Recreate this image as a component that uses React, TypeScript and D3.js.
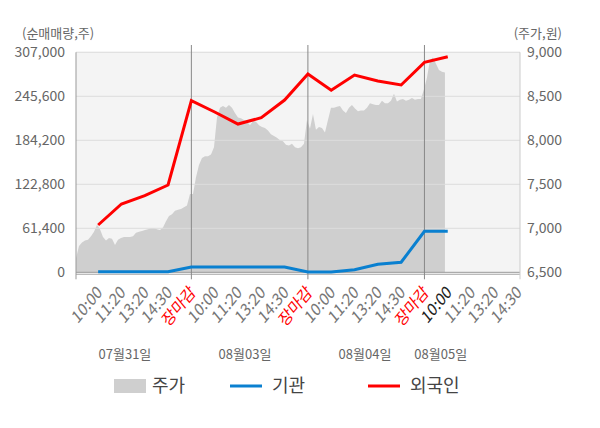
import React, { useRef, useEffect } from 'react';
import * as d3 from 'd3';

// x categories (one slot per tick label)
const timeLabels = [
  '10:00', '11:20', '13:20', '14:30', '장마감',
  '10:00', '11:20', '13:20', '14:30', '장마감',
  '10:00', '11:20', '13:20', '14:30', '장마감',
  '10:00', '11:20', '13:20', '14:30',
];
const currentSlot = 15;
const dayLabels = ['07월31일', '08월03일', '08월04일', '08월05일'];
const dayLabelSlots = [1.15, 6.3, 11.45, 14.7];
const dayBoundarySlots = [4, 9, 14];

// 순매매량 (주), one value per slot
const foreign = [
  66000, 95300, 106900, 121800, 239500,
  223700, 206900, 215700, 240400, 276700,
  254000, 275300, 267000, 261400, 293000,
  300900,
];
const institution = [
  800, 800, 800, 800, 7400,
  7400, 7400, 7400, 7400, 400,
  400, 3600, 11200, 14000, 57200,
  57200,
];

// 주가 (원), evenly spaced intraday samples from session open to now
const priceStartSlot = -0.95;
const priceEndSlot = 14.88;
const price = [
  6660, 6800, 6840, 6860, 6870, 6910, 6960, 7040, 6990, 6900,
  6860, 6890, 6880, 6810, 6870, 6890, 6900, 6900, 6900, 6910,
  6950, 6960, 6970, 6980, 6990, 7000, 7000, 6990, 6980, 7010,
  7080, 7140, 7160, 7200, 7210, 7220, 7240, 7260, 7390, 7390,
  7580, 7720, 7800, 7820, 7820, 7840, 7920, 8260, 8370, 8390,
  8370, 8400, 8370, 8310, 8260, 8250, 8230, 8210, 8170, 8220,
  8210, 8170, 8150, 8140, 8110, 8070, 8050, 8030, 8000, 7990,
  7950, 7940, 7960, 7920, 7910, 7920, 7960, 8230, 8130, 8300,
  8120, 8150, 8140, 8090, 8230, 8370, 8370, 8380, 8390, 8340,
  8310, 8370, 8400, 8360, 8330, 8340, 8340, 8370, 8420, 8410,
  8400, 8400, 8450, 8420, 8420, 8450, 8530, 8440, 8460, 8470,
  8450, 8460, 8480, 8460, 8470, 8470, 8580, 8710, 8910, 8940,
  8870, 8800, 8780, 8770,
];

const volumeTicks = [0, 61400, 122800, 184200, 245600, 307000];
const priceTicks = [6500, 7000, 7500, 8000, 8500, 9000];

const W = 600;
const H = 428;
const FONT = '"Noto Sans CJK KR", "Noto Sans", sans-serif';

const App: React.FC = () => {
  const svgRef = useRef<SVGSVGElement>(null);

  useEffect(() => {
    const svg = d3.select(svgRef.current);
    svg.selectAll('*').remove();

    const left = 76;
    const right = 520;
    const top = 52.3;
    const bottom = 272.3;

    const x = d3.scaleLinear().domain([-0.95, 18.1]).range([left, right]);
    const yVol = d3.scaleLinear().domain([0, 307000]).range([bottom, top]);
    const yPrice = d3.scaleLinear().domain([6500, 9000]).range([bottom, top]);

    // plot background
    svg.append('rect')
      .attr('x', left)
      .attr('y', top - 0.6)
      .attr('width', right - left)
      .attr('height', bottom - top + 2)
      .attr('fill', '#f4f4f4');

    // price area
    const priceStep = (priceEndSlot - priceStartSlot) / (price.length - 1);
    const area = d3.area<number>()
      .x((_, i) => x(priceStartSlot + i * priceStep))
      .y0(yPrice(6500))
      .y1(d => yPrice(d));
    svg.append('path')
      .datum(price)
      .attr('d', area)
      .attr('fill', '#cfcfcf');

    // grid lines
    svg.selectAll('.grid')
      .data(volumeTicks)
      .enter()
      .append('line')
      .attr('x1', left)
      .attr('x2', right)
      .attr('y1', d => yVol(d))
      .attr('y2', d => yVol(d))
      .attr('stroke', d => (d === 0 ? '#999' : '#dcdcdc'))
      .attr('stroke-width', 1);

    // bottom axis line
    svg.append('line')
      .attr('x1', left)
      .attr('x2', right)
      .attr('y1', bottom + 2)
      .attr('y2', bottom + 2)
      .attr('stroke', '#aaa');

    // day separators
    svg.selectAll('.sep')
      .data(dayBoundarySlots)
      .enter()
      .append('line')
      .attr('x1', d => x(d))
      .attr('x2', d => x(d))
      .attr('y1', 45)
      .attr('y2', bottom + 7)
      .attr('stroke', '#888')
      .attr('stroke-width', 1);

    // side axis lines
    svg.append('line')
      .attr('x1', left).attr('x2', left)
      .attr('y1', top).attr('y2', bottom + 7)
      .attr('stroke', '#999');
    svg.append('line')
      .attr('x1', right).attr('x2', right)
      .attr('y1', top).attr('y2', bottom + 7)
      .attr('stroke', '#ccc');

    // lines
    const line = d3.line<number>()
      .x((_, i) => x(i))
      .y(d => yVol(d));

    svg.append('path')
      .datum(institution)
      .attr('d', line)
      .attr('fill', 'none')
      .attr('stroke', '#0a80d0')
      .attr('stroke-width', 3);

    svg.append('path')
      .datum(foreign)
      .attr('d', line)
      .attr('fill', 'none')
      .attr('stroke', '#ff0000')
      .attr('stroke-width', 3);

    // left axis labels
    svg.selectAll('.vl')
      .data(volumeTicks)
      .enter()
      .append('text')
      .attr('x', 65)
      .attr('y', d => yVol(d))
      .attr('dy', '0.35em')
      .attr('text-anchor', 'end')
      .attr('fill', '#666')
      .style('font-family', FONT)
      .style('font-size', '14px')
      .text(d => d3.format(',')(d));

    // right axis labels
    svg.selectAll('.pl')
      .data(priceTicks)
      .enter()
      .append('text')
      .attr('x', 527)
      .attr('y', d => yPrice(d))
      .attr('dy', '0.35em')
      .attr('text-anchor', 'start')
      .attr('fill', '#666')
      .style('font-family', FONT)
      .style('font-size', '14px')
      .text(d => d3.format(',')(d));

    // axis titles
    svg.append('text')
      .attr('x', 22)
      .attr('y', 33)
      .attr('dy', '0.35em')
      .attr('fill', '#666')
      .style('font-family', FONT)
      .style('font-size', '13px')
      .text('(순매매량,주)');
    svg.append('text')
      .attr('x', 562)
      .attr('y', 33)
      .attr('dy', '0.35em')
      .attr('text-anchor', 'end')
      .attr('fill', '#666')
      .style('font-family', FONT)
      .style('font-size', '13px')
      .text('(주가,원)');

    // x tick labels (slightly squeezed, like the original)
    svg.selectAll('.xl')
      .data(timeLabels)
      .enter()
      .append('text')
      .attr('transform', (_, i) => `translate(${x(i) + 5},${bottom + 21}) scale(0.82,1) rotate(-45)`)
      .attr('text-anchor', 'end')
      .attr('fill', (d, i) => (d === '장마감' ? '#ff0000' : i === currentSlot ? '#222' : '#777'))
      .style('font-family', FONT)
      .style('font-size', '17.5px')
      .text(d => d);

    // date labels
    svg.selectAll('.dl')
      .data(dayLabels)
      .enter()
      .append('text')
      .attr('x', (_, i) => x(dayLabelSlots[i]))
      .attr('y', 354)
      .attr('dy', '0.35em')
      .attr('text-anchor', 'middle')
      .attr('fill', '#666')
      .style('font-family', FONT)
      .style('font-size', '13px')
      .text(d => d);

    // legend
    const legend = svg.append('g').attr('transform', 'translate(0,386)');
    legend.append('rect')
      .attr('x', 114).attr('y', -7)
      .attr('width', 32).attr('height', 14)
      .attr('fill', '#cfcfcf');
    legend.append('line')
      .attr('x1', 230).attr('x2', 262)
      .attr('y1', 0).attr('y2', 0)
      .attr('stroke', '#0a80d0').attr('stroke-width', 3);
    legend.append('line')
      .attr('x1', 368).attr('x2', 400)
      .attr('y1', 0).attr('y2', 0)
      .attr('stroke', '#ff0000').attr('stroke-width', 3);
    const legendText = [
      { x: 152, t: '주가' },
      { x: 272, t: '기관' },
      { x: 410, t: '외국인' },
    ];
    legend.selectAll('.lt')
      .data(legendText)
      .enter()
      .append('text')
      .attr('x', d => d.x)
      .attr('y', 0)
      .attr('dy', '0.35em')
      .attr('fill', '#444')
      .style('font-family', FONT)
      .style('font-size', '18px')
      .text(d => d.t);
  }, []);

  return (
    <svg
      ref={svgRef}
      width={W}
      height={H}
      viewBox={`0 0 ${W} ${H}`}
      style={{ position: 'absolute', left: 0, top: 0, background: '#fff' }}
    />
  );
};

export default App;
